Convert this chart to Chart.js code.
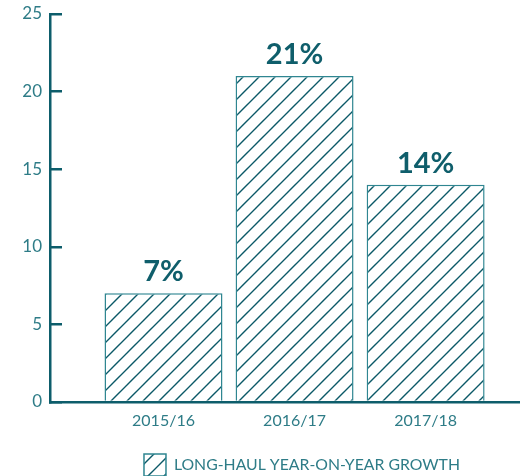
<!DOCTYPE html>
<html>
<head>
<meta charset="utf-8">
<script src="https://cdn.jsdelivr.net/npm/chart.js@4/dist/chart.umd.min.js"></script>
<style>
  html, body { margin: 0; padding: 0; background: #fff; }
  #wrap { width: 520px; height: 476px; }
</style>
</head>
<body>
<div id="wrap"><canvas id="growthChart" width="520" height="476"></canvas></div>
<script>
// data
const periods = ['2015/16', '2016/17', '2017/18'];
const growth = [7, 21, 14];
const yTicks = [0, 5, 10, 15, 20, 25];
const seriesLabel = 'LONG-HAUL YEAR-ON-YEAR GROWTH';

const AXIS = '#0d5d6b';
const HATCH = '#0b5967';
const EDGE = '#2f8691';
const TEXT = '#2e7c87';
const FONT = 'Lato, "Open Sans", sans-serif';

// diagonal hatch fill
function makeHatch() {
    const size = 16;
    const c = document.createElement('canvas');
    c.width = size;
    c.height = size;
    const g = c.getContext('2d');
    g.fillStyle = '#fff';
    g.fillRect(0, 0, size, size);
    g.strokeStyle = HATCH;
    g.lineWidth = 1.4;
    g.beginPath();
    g.moveTo(-2, size + 2); g.lineTo(size + 2, -2);
    g.moveTo(-2, 2); g.lineTo(2, -2);
    g.moveTo(size - 2, size + 2); g.lineTo(size + 2, size - 2);
    g.stroke();
    return g.createPattern(c, 'repeat');
}

const canvas = document.getElementById('growthChart');
const hatch = makeHatch();

const valueLabels = {
    id: 'valueLabels',
    afterDatasetsDraw(chart) {
        const ctx = chart.ctx;
        const meta = chart.getDatasetMeta(0);
        ctx.save();
        ctx.fillStyle = '#0f5e6b';
        ctx.font = 'bold 29px ' + FONT;
        ctx.textAlign = 'center';
        ctx.textBaseline = 'alphabetic';
        meta.data.forEach((bar, i) => {
            ctx.fillText(growth[i] + '%', bar.x, bar.y - 12);
        });
        ctx.restore();
    }
};

// nudge the legend to where it sits in the original
const shiftLegend = {
    id: 'shiftLegend',
    afterLayout(chart) {
        const lg = chart.legend;
        lg.left += 42;
        lg.right += 42;
        lg.top += 10;
        lg.bottom += 10;
    }
};

new Chart(canvas, {
    type: 'bar',
    data: {
        datasets: [{
            label: seriesLabel,
            data: periods.map((p, i) => ({ x: i + 1, y: growth[i] })),
            backgroundColor: hatch,
            borderColor: EDGE,
            borderWidth: 1.5,
            barPercentage: 0.9,
            categoryPercentage: 1
        }]
    },
    options: {
        responsive: false,
        animation: false,
        layout: { padding: { top: 14, right: 0, bottom: 0, left: 0 } },
        plugins: {
            tooltip: { enabled: false },
            legend: {
                position: 'bottom',
                labels: {
                    boxWidth: 22,
                    boxHeight: 22,
                    padding: 2,
                    color: TEXT,
                    font: { family: FONT, size: 15.8 }
                }
            }
        },
        scales: {
            x: {
                type: 'linear',
                offset: false,
                min: 0.134,
                max: 3.72,
                grid: { display: false, offset: false },
                border: { display: true, color: AXIS, width: 2.5 },
                afterBuildTicks(scale) {
                    scale.ticks = periods.map((p, i) => ({ value: i + 1 }));
                },
                afterFit(scale) { scale.height = 40; },
                ticks: {
                    padding: 1,
                    color: TEXT,
                    font: { family: FONT, size: 16 },
                    callback: (v) => periods[v - 1]
                }
            },
            y: {
                min: 0,
                max: 25,
                afterBuildTicks(scale) {
                    scale.ticks = yTicks.map(v => ({ value: v }));
                },
                afterFit(scale) {
                    scale.width = 50;
                    scale.paddingTop = 0;
                    scale.paddingBottom = 0;
                },
                grid: {
                    drawOnChartArea: false,
                    drawTicks: true,
                    tickLength: -12,
                    color: AXIS,
                    lineWidth: 2.5
                },
                border: { display: true, color: AXIS, width: 2.5 },
                ticks: {
                    padding: 20,
                    color: TEXT,
                    font: { family: FONT, size: 17 }
                }
            }
        }
    },
    plugins: [valueLabels, shiftLegend]
});
</script>
</body>
</html>
